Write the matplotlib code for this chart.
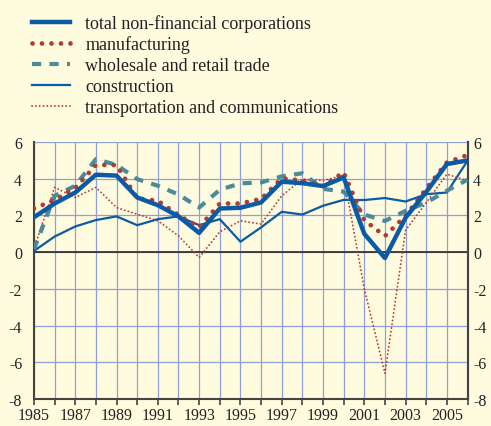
import matplotlib
matplotlib.use("Agg")
import matplotlib.pyplot as plt
from matplotlib.lines import Line2D

plt.rcParams["font.family"] = ["Liberation Serif", "DejaVu Serif"]
plt.rcParams["axes.unicode_minus"] = False

years = list(range(1985, 2007))
total = [1.9, 2.65, 3.25, 4.22, 4.17, 2.98, 2.56, 1.95, 1.05, 2.38, 2.42,
         2.71, 3.84, 3.76, 3.6, 4.07, 1.0, -0.32, 1.88, 3.28, 4.8, 5.0]
manufacturing = [2.38, 2.85, 3.5, 4.75, 4.75, 2.93, 2.8, 2.02, 1.35, 2.65, 2.65,
                 2.9, 4.02, 3.9, 3.6, 4.35, 1.74, 0.88, 1.98, 3.46, 4.89, 5.29]
wholesale = [0.16, 3.07, 3.62, 5.07, 4.75, 3.98, 3.62, 3.14, 2.43, 3.4, 3.75,
             3.8, 4.13, 4.3, 3.45, 3.3, 2.05, 1.7, 2.25, 2.7, 3.35, 3.95]
construction = [0.07, 0.85, 1.4, 1.75, 1.95, 1.47, 1.8, 1.95, 1.47, 1.8, 0.57,
                1.35, 2.2, 2.05, 2.53, 2.85, 2.84, 2.95, 2.76, 3.16, 3.25, 4.98]
transport = [0.2, 3.53, 2.98, 3.53, 2.43, 2.07, 1.71, 0.89, -0.29, 1.11, 1.71,
             1.53, 3.07, 3.98, 3.9, 4.2, -2.0, -6.6, 1.2, 2.7, 4.25, 3.9]

labels = ["total non-financial corporations", "manufacturing",
          "wholesale and retail trade", "construction",
          "transportation and communications"]
xtick_years = list(range(1985, 2006, 2))
yticks = list(range(-8, 7, 2))

bg = "#fefbdf"
blue = "#0a5aa5"
red = "#b23b32"
teal = "#4a8b9b"

fig = plt.figure(figsize=(4.91, 4.27), dpi=100, facecolor=bg)
ax = fig.add_axes([0.0692, 0.0632, 0.8830, 0.6018], facecolor=bg)

for y in years:
    ax.axvline(y, color="#8fa0d8", lw=0.9, zorder=1)
for v in yticks:
    ax.axhline(v, color="#8fa0d8", lw=0.9, zorder=1)
ax.axhline(0, color="#333333", lw=1.3, zorder=2)

ax.plot(years, construction, color=blue, lw=1.6, zorder=3)
ax.plot(years, transport, color=red, lw=1.3, ls=(0, (0.1, 2.0)),
        dash_capstyle="round", zorder=3)
ax.plot(years, wholesale, color=teal, lw=3.0, ls=(0, (2.2, 2.0)), zorder=4)
ax.plot(years, manufacturing, color=red, lw=3.4, ls=(0, (0.01, 2.0)),
        dash_capstyle="round", zorder=5)
ax.plot(years, total, color=blue, lw=3.2, zorder=6)

ax.set_xlim(1985, 2006)
ax.set_ylim(-8, 6)
ax.set_xticks(years, minor=True)
ax.set_xticks(xtick_years)
ax.set_xticklabels([str(y) for y in xtick_years])
ax.set_yticks(yticks)
ax.tick_params(axis="y", length=0, pad=8.5, labelsize=11.5, colors="#222222")
ax.tick_params(axis="x", which="both", length=4, width=1.2, direction="out",
               color="#444444", labelsize=11.5, pad=2, labelcolor="#222222")

# right-hand copy of the y labels
sec = ax.secondary_yaxis("right")
sec.set_yticks(yticks)
sec.tick_params(length=0, pad=4, labelsize=11.5, colors="#222222")
sec.spines["right"].set_color("#444444")
sec.spines["right"].set_linewidth(1.5)

for side in ["left", "right", "bottom"]:
    ax.spines[side].set_color("#444444")
    ax.spines[side].set_linewidth(1.5)
ax.spines["top"].set_visible(False)

handles = [
    Line2D([], [], color=blue, lw=3.2),
    Line2D([], [], color=red, lw=3.4, ls=(0, (0.01, 2.0)), dash_capstyle="round"),
    Line2D([], [], color=teal, lw=3.0, ls=(0, (2.2, 2.0))),
    Line2D([], [], color=blue, lw=1.6),
    Line2D([], [], color=red, lw=1.3, ls=(0, (0.1, 2.0)), dash_capstyle="round"),
]
fig.legend(handles, labels, loc="upper left", bbox_to_anchor=(0.065, 0.965),
           frameon=False, fontsize=13, handlelength=2.1, handletextpad=0.85,
           labelspacing=0.21, borderpad=0, borderaxespad=0,
           labelcolor="#222222")

fig.savefig("out.png", dpi=100, facecolor=bg)
